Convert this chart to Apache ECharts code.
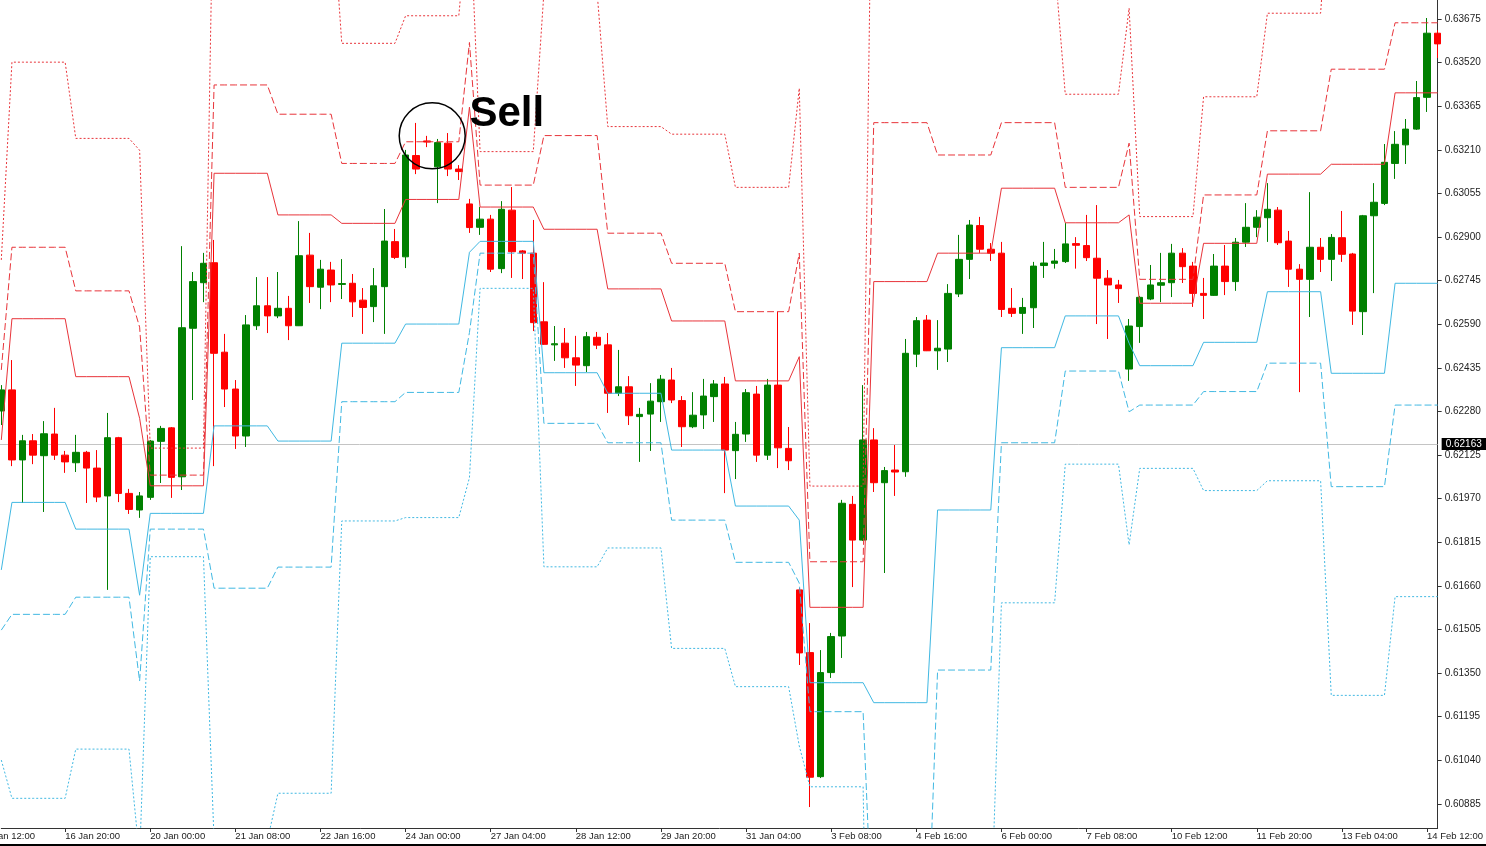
<!DOCTYPE html>
<html><head><meta charset="utf-8">
<script src="https://cdn.jsdelivr.net/npm/echarts/dist/echarts.min.js"></script>
<style>html,body{margin:0;padding:0;background:#fff;overflow:hidden}#c{width:1486px;height:846px}</style>
</head><body><div id="c"></div>
<script>
const categories = [
"15 Jan 20:00",
"16 Jan 00:00","16 Jan 04:00","16 Jan 08:00","16 Jan 12:00","16 Jan 16:00","16 Jan 20:00",
"17 Jan 00:00","17 Jan 04:00","17 Jan 08:00","17 Jan 12:00","17 Jan 16:00","17 Jan 20:00",
"19 Jan 20:00",
"20 Jan 00:00","20 Jan 04:00","20 Jan 08:00","20 Jan 12:00","20 Jan 16:00","20 Jan 20:00",
"21 Jan 00:00","21 Jan 04:00","21 Jan 08:00","21 Jan 12:00","21 Jan 16:00","21 Jan 20:00",
"22 Jan 00:00","22 Jan 04:00","22 Jan 08:00","22 Jan 12:00","22 Jan 16:00","22 Jan 20:00",
"23 Jan 00:00","23 Jan 04:00","23 Jan 08:00","23 Jan 12:00","23 Jan 16:00","23 Jan 20:00",
"24 Jan 00:00","24 Jan 04:00","24 Jan 08:00","24 Jan 12:00","24 Jan 16:00","24 Jan 20:00",
"26 Jan 20:00",
"27 Jan 00:00","27 Jan 04:00","27 Jan 08:00","27 Jan 12:00","27 Jan 16:00","27 Jan 20:00",
"28 Jan 00:00","28 Jan 04:00","28 Jan 08:00","28 Jan 12:00","28 Jan 16:00","28 Jan 20:00",
"29 Jan 00:00","29 Jan 04:00","29 Jan 08:00","29 Jan 12:00","29 Jan 16:00","29 Jan 20:00",
"30 Jan 00:00","30 Jan 04:00","30 Jan 08:00","30 Jan 12:00","30 Jan 16:00","30 Jan 20:00",
"31 Jan 00:00","31 Jan 04:00","31 Jan 08:00","31 Jan 12:00","31 Jan 16:00","31 Jan 20:00",
"2 Feb 20:00",
"3 Feb 00:00","3 Feb 04:00","3 Feb 08:00","3 Feb 12:00","3 Feb 16:00","3 Feb 20:00",
"4 Feb 00:00","4 Feb 04:00","4 Feb 08:00","4 Feb 12:00","4 Feb 16:00","4 Feb 20:00",
"5 Feb 00:00","5 Feb 04:00","5 Feb 08:00","5 Feb 12:00","5 Feb 16:00","5 Feb 20:00",
"6 Feb 00:00","6 Feb 04:00","6 Feb 08:00","6 Feb 12:00","6 Feb 16:00","6 Feb 20:00",
"7 Feb 00:00","7 Feb 04:00","7 Feb 08:00","7 Feb 12:00","7 Feb 16:00","7 Feb 20:00",
"9 Feb 20:00",
"10 Feb 00:00","10 Feb 04:00","10 Feb 08:00","10 Feb 12:00","10 Feb 16:00","10 Feb 20:00",
"11 Feb 00:00","11 Feb 04:00","11 Feb 08:00","11 Feb 12:00","11 Feb 16:00","11 Feb 20:00",
"12 Feb 00:00","12 Feb 04:00","12 Feb 08:00","12 Feb 12:00","12 Feb 16:00","12 Feb 20:00",
"13 Feb 00:00","13 Feb 04:00","13 Feb 08:00","13 Feb 12:00","13 Feb 16:00","13 Feb 20:00",
"14 Feb 00:00","14 Feb 04:00","14 Feb 08:00","14 Feb 12:00","14 Feb 16:00"
];

// [open, close, low, high]
const candles = [
[0.62282,0.62357,0.62232,0.62374],
[0.62357,0.62108,0.62086,0.62463],
[0.62108,0.62176,0.61955,0.62197],
[0.62176,0.62125,0.62093,0.62200],
[0.62123,0.62201,0.61923,0.62246],
[0.62200,0.62125,0.62108,0.62293],
[0.62125,0.62101,0.62062,0.62140],
[0.62098,0.62135,0.62065,0.62197],
[0.62135,0.62079,0.61955,0.62140],
[0.62079,0.61976,0.61958,0.62143],
[0.61980,0.62187,0.61646,0.62275],
[0.62187,0.61989,0.61958,0.62190],
[0.61989,0.61932,0.61916,0.62005],
[0.61930,0.61980,0.61902,0.61994],
[0.61975,0.62175,0.61966,0.62179],
[0.62174,0.62220,0.62026,0.62229],
[0.62222,0.62046,0.61973,0.62225],
[0.62048,0.62578,0.62001,0.62868],
[0.62576,0.62742,0.62321,0.62776],
[0.62738,0.62807,0.62669,0.62844],
[0.62809,0.62487,0.62086,0.62890],
[0.62491,0.62360,0.62296,0.62556],
[0.62360,0.62193,0.62147,0.62392],
[0.62193,0.62588,0.62154,0.62623],
[0.62585,0.62656,0.62570,0.62758],
[0.62656,0.62620,0.62559,0.62758],
[0.62620,0.62647,0.62612,0.62776],
[0.62647,0.62585,0.62534,0.62691],
[0.62585,0.62834,0.62584,0.62957],
[0.62836,0.62724,0.62666,0.62915],
[0.62722,0.62786,0.62644,0.62819],
[0.62783,0.62730,0.62669,0.62812],
[0.62732,0.62735,0.62680,0.62822],
[0.62736,0.62670,0.62616,0.62769],
[0.62676,0.62650,0.62556,0.62719],
[0.62653,0.62727,0.62598,0.62790],
[0.62724,0.62886,0.62556,0.63000],
[0.62884,0.62828,0.62822,0.62929],
[0.62830,0.63192,0.62790,0.63210],
[0.63190,0.63142,0.63124,0.63306],
[0.63242,0.63238,0.63220,0.63260],
[0.63150,0.63236,0.63021,0.63249],
[0.63234,0.63142,0.63117,0.63270],
[0.63142,0.63133,0.63103,0.63156],
[0.63018,0.62934,0.62915,0.63036],
[0.62935,0.62964,0.62908,0.63007],
[0.62964,0.62786,0.62776,0.62979],
[0.62788,0.62999,0.62772,0.63028],
[0.62996,0.62848,0.62755,0.63078],
[0.62851,0.62843,0.62751,0.62854],
[0.62843,0.62596,0.62566,0.62961],
[0.62599,0.62519,0.62517,0.62740],
[0.62517,0.62521,0.62460,0.62584],
[0.62523,0.62471,0.62435,0.62577],
[0.62471,0.62445,0.62371,0.62549],
[0.62443,0.62546,0.62420,0.62563],
[0.62544,0.62516,0.62502,0.62563],
[0.62517,0.62345,0.62275,0.62559],
[0.62345,0.62368,0.62335,0.62499],
[0.62368,0.62265,0.62232,0.62406],
[0.62262,0.62270,0.62101,0.62293],
[0.62271,0.62317,0.62140,0.62381],
[0.62315,0.62395,0.62243,0.62410],
[0.62392,0.62321,0.62310,0.62435],
[0.62319,0.62226,0.62154,0.62335],
[0.62226,0.62267,0.62221,0.62349],
[0.62268,0.62335,0.62218,0.62396],
[0.62333,0.62378,0.62243,0.62392],
[0.62378,0.62143,0.61990,0.62403],
[0.62141,0.62199,0.62040,0.62243],
[0.62200,0.62347,0.62172,0.62360],
[0.62342,0.62125,0.62101,0.62371],
[0.62125,0.62374,0.62108,0.62396],
[0.62374,0.62151,0.62079,0.62634],
[0.62149,0.62105,0.62072,0.62225],
[0.61646,0.61422,0.61379,0.61653],
[0.61423,0.60980,0.60874,0.61528],
[0.60982,0.61352,0.60977,0.61432],
[0.61352,0.61480,0.61333,0.61493],
[0.61482,0.61954,0.61404,0.61966],
[0.61950,0.61823,0.61656,0.61980],
[0.61823,0.62179,0.61820,0.62374],
[0.62179,0.62027,0.61994,0.62221],
[0.62027,0.62070,0.61706,0.62083],
[0.62072,0.62065,0.61980,0.62161],
[0.62066,0.62487,0.62048,0.62538],
[0.62484,0.62603,0.62438,0.62616],
[0.62605,0.62496,0.62495,0.62623],
[0.62496,0.62505,0.62428,0.62605],
[0.62502,0.62700,0.62456,0.62733],
[0.62698,0.62821,0.62687,0.62908],
[0.62821,0.62943,0.62751,0.62961],
[0.62941,0.62857,0.62844,0.62972],
[0.62857,0.62843,0.62815,0.62879],
[0.62843,0.62643,0.62616,0.62883],
[0.62647,0.62629,0.62616,0.62719],
[0.62629,0.62650,0.62556,0.62684],
[0.62649,0.62797,0.62577,0.62812],
[0.62799,0.62808,0.62755,0.62883],
[0.62807,0.62815,0.62788,0.62858],
[0.62813,0.62876,0.62808,0.62950],
[0.62877,0.62871,0.62788,0.62900],
[0.62870,0.62827,0.62815,0.62979],
[0.62825,0.62754,0.62591,0.63014],
[0.62754,0.62730,0.62538,0.62783],
[0.62730,0.62717,0.62666,0.62748],
[0.62431,0.62584,0.62389,0.62609],
[0.62582,0.62686,0.62524,0.62691],
[0.62680,0.62730,0.62676,0.62801],
[0.62729,0.62738,0.62669,0.62844],
[0.62738,0.62843,0.62687,0.62876],
[0.62843,0.62795,0.62737,0.62861],
[0.62797,0.62700,0.62652,0.62812],
[0.62700,0.62693,0.62609,0.62755],
[0.62693,0.62797,0.62691,0.62840],
[0.62797,0.62742,0.62694,0.62872],
[0.62742,0.62882,0.62709,0.62897],
[0.62882,0.62935,0.62865,0.63021],
[0.62935,0.62971,0.62900,0.62996],
[0.62969,0.62999,0.62883,0.63092],
[0.62996,0.62880,0.62872,0.63007],
[0.62886,0.62786,0.62723,0.62922],
[0.62786,0.62750,0.62349,0.62804],
[0.62750,0.62864,0.62616,0.63060],
[0.62864,0.62821,0.62776,0.62897],
[0.62821,0.62899,0.62744,0.62911],
[0.62898,0.62839,0.62812,0.62993],
[0.62840,0.62637,0.62588,0.62844],
[0.62635,0.62976,0.62552,0.62979],
[0.62976,0.63024,0.62701,0.63092],
[0.63020,0.63166,0.63014,0.63231],
[0.63162,0.63230,0.63107,0.63277],
[0.63228,0.63284,0.63160,0.63320],
[0.63284,0.63396,0.63281,0.63455],
[0.63397,0.63625,0.63345,0.63679],
[0.63625,0.63587,0.63537,0.63636]
];

// number of bars in each pivot session (day / Sunday bar)
const sessionBars = [1,6,6,1,6,6,6,6,6,1,6,6,6,6,6,1,6,6,6,6,6,1,6,6,6,6,5];
const r3Levels = [0.62819,0.63522,0.63251,0.63209,0.62150,0.64340,0.64141,0.63589,0.63687,0.64107,0.63204,0.63770,0.63293,0.63266,0.63077,0.63429,0.62015,0.64802,0.64105,0.63874,0.63408,0.63714,0.62973,0.63399,0.63696,0.64240,0.64340];
const r2Levels = [0.62428,0.62864,0.62709,0.62580,0.62054,0.63441,0.63337,0.63162,0.63239,0.63592,0.63085,0.63261,0.62914,0.62807,0.62635,0.62843,0.61746,0.63307,0.63192,0.63307,0.63077,0.63234,0.62750,0.63050,0.63278,0.63497,0.63662];
const r1Levels = [0.62179,0.62610,0.62404,0.62256,0.62016,0.63127,0.62979,0.62949,0.63034,0.63362,0.63007,0.62928,0.62716,0.62602,0.62389,0.62475,0.61584,0.62742,0.62843,0.63074,0.62951,0.62979,0.62665,0.62878,0.63124,0.63159,0.63413];
const s1Levels = [0.61717,0.61957,0.61862,0.61627,0.61918,0.62229,0.62175,0.62523,0.62591,0.62846,0.62885,0.62418,0.62345,0.62143,0.61944,0.61894,0.61316,0.61245,0.61930,0.62507,0.62620,0.62523,0.62443,0.62526,0.62706,0.62416,0.62736];
const s2Levels = [0.61503,0.61559,0.61620,0.61322,0.61862,0.61652,0.61727,0.62315,0.62348,0.62561,0.62843,0.62238,0.62169,0.61894,0.61744,0.61670,0.61213,0.60314,0.61361,0.62169,0.62424,0.62279,0.62303,0.62351,0.62452,0.62013,0.62303];
const s3Levels = [0.61041,0.60905,0.61080,0.60693,0.61764,0.60753,0.60923,0.61891,0.61903,0.62045,0.62718,0.61728,0.61795,0.61438,0.61302,0.61091,0.60946,0.58817,0.60449,0.61600,0.62093,0.61806,0.62078,0.61999,0.62034,0.61271,0.61622];

const priceTicks = [0.60885,0.61040,0.61195,0.61350,0.61505,0.61660,0.61815,0.61970,0.62125,0.62280,0.62435,0.62590,0.62745,0.62900,0.63055,0.63210,0.63365,0.63520,0.63675];
const currentPrice = 0.62163;
const priceMin = 0.607995, priceMax = 0.63743;
const cutLabel = "15 Jan 12:00";
const sellText = "Sell";

function expand(levels){
  const out = [];
  levels.forEach((v,i)=>{ for(let j=0;j<sessionBars[i];j++) out.push(v); });
  return out;
}

const RED = '#e8343a', CYAN = '#40b8e2';
const FONT = 'Liberation Sans';
const labelEvery = (i) => i % 8 === 6;

function lineSeries(levels, color, type, name){
  return { name, type:'line', data: expand(levels), symbol:'none', showSymbol:false, silent:true,
    lineStyle:{ color, width:1, type }, z:4, animation:false };
}

const chart = echarts.init(document.getElementById('c'), null, {renderer:'canvas'});
chart.setOption({
  animation:false,
  backgroundColor:'#ffffff',
  grid:{ left:1.3, right:45.7, top:0, bottom:18, containLabel:false },
  xAxis:{
    type:'category', data: categories, boundaryGap:false,
    axisLine:{ show:true, lineStyle:{ color:'#333', width:1 } },
    axisTick:{ show:true, interval:labelEvery, length:4, lineStyle:{ color:'#333' } },
    axisLabel:{ interval:labelEvery, align:'left', margin:3, fontSize:9.5, fontFamily:FONT, color:'#222' },
    splitLine:{ show:false }
  },
  yAxis:{
    type:'value', position:'right', min:priceMin, max:priceMax,
    axisLine:{ show:true, lineStyle:{ color:'#333', width:1 } },
    axisTick:{ show:true, length:4, customValues: priceTicks, lineStyle:{ color:'#333' } },
    axisLabel:{ customValues: priceTicks, formatter:(v)=>v.toFixed(5), margin:7, fontSize:10, fontFamily:FONT, color:'#222' },
    splitLine:{ show:false }
  },
  series:[
    { type:'candlestick', data:candles, barWidth:7, z:3, animation:false,
      itemStyle:{ color:'#008000', color0:'#ff0000', borderColor:'#008000', borderColor0:'#ff0000', borderWidth:1 } },
    lineSeries(r1Levels, RED, 'solid', 'R1'),
    lineSeries(r2Levels, RED, [7,3], 'R2'),
    lineSeries(r3Levels, RED, [2,2], 'R3'),
    lineSeries(s1Levels, CYAN, 'solid', 'S1'),
    lineSeries(s2Levels, CYAN, [7,3], 'S2'),
    lineSeries(s3Levels, CYAN, [2,2], 'S3')
  ]
});

// annotations & current-price line anchored to data coordinates via the axes
const xa = chart.convertToPixel({xAxisIndex:0}, categories[40]);
const xb = chart.convertToPixel({xAxisIndex:0}, categories[41]);
const step = xb - xa;
const cy = chart.convertToPixel({yAxisIndex:0}, 0.6326);
const sellX = chart.convertToPixel({xAxisIndex:0}, categories[44]);
const sellY = chart.convertToPixel({yAxisIndex:0}, 0.63338);
const x0 = chart.convertToPixel({xAxisIndex:0}, categories[0]);
const xEnd = chart.convertToPixel({xAxisIndex:0}, categories[categories.length - 1]);
const axisY = chart.convertToPixel({yAxisIndex:0}, priceMin);
const priceY = Math.round(chart.convertToPixel({yAxisIndex:0}, currentPrice)) + 0.5;
chart.setOption({
  graphic:[
    { type:'line', shape:{ x1:0, y1:priceY, x2:xEnd, y2:priceY }, style:{ stroke:'#c4c4c4', lineWidth:1 }, z:2, silent:true },
    { type:'rect', shape:{ x:xEnd + 4, y:priceY - 6.5, width:1486 - xEnd - 4, height:12 }, style:{ fill:'#000' }, z:20, silent:true },
    { type:'text', x:xEnd + 8, y:priceY, style:{ text: currentPrice.toFixed(5), font:'10px "Liberation Sans"', fill:'#fff', align:'left', verticalAlign:'middle' }, z:21, silent:true },
    { type:'circle', shape:{ cx:(xa+xb)/2, cy:cy, r:33 }, style:{ fill:'none', stroke:'#000', lineWidth:1.5 }, z:10, silent:true },
    { type:'text', x:sellX, y:sellY, style:{ text:sellText, font:'bold 42px "Liberation Sans"', fill:'#000', align:'left', verticalAlign:'middle' }, z:10, silent:true },
    { type:'text', x:x0 - 2*step, y:axisY + 3, style:{ text:cutLabel, font:'9.5px "Liberation Sans"', fill:'#222', align:'left', verticalAlign:'top' }, silent:true },
    { type:'rect', shape:{ x:0, y:844, width:1486, height:2 }, style:{ fill:'#000' }, silent:true }
  ]
});
</script></body></html>
